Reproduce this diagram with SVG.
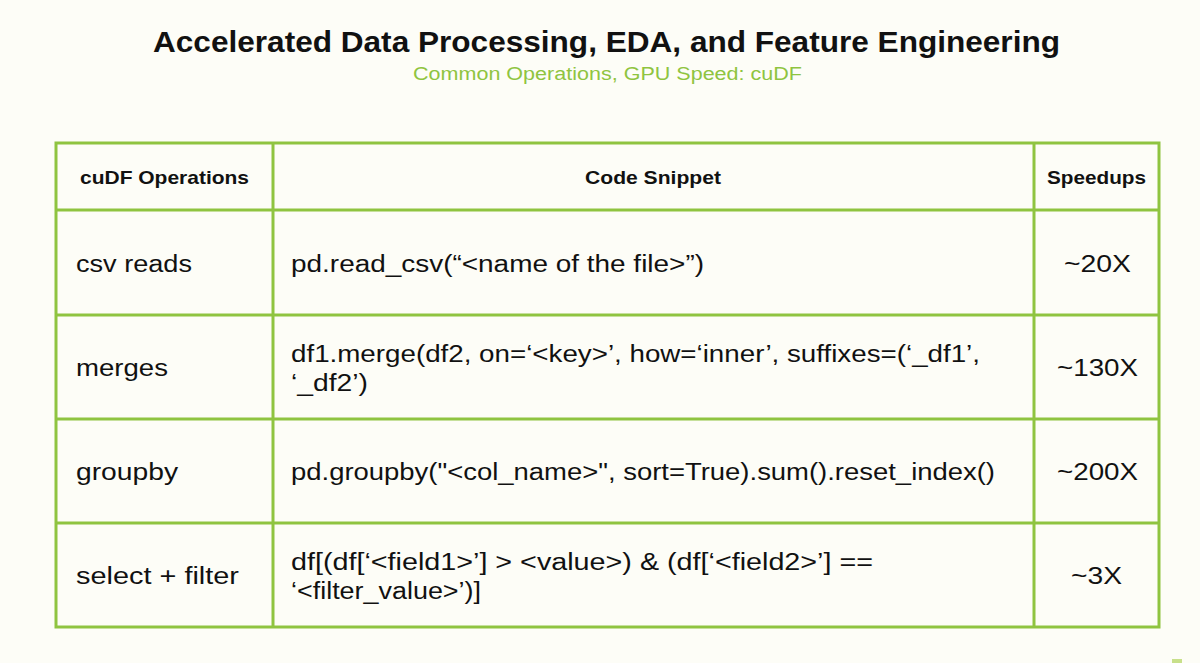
<svg xmlns="http://www.w3.org/2000/svg" width="1200" height="663" viewBox="0 0 1200 663">
<style>
.t{font-family:"Liberation Sans",Arial,sans-serif;fill:#111}
.h{font-weight:bold;font-size:19px}
.b{font-size:23px}
.ln{stroke:#8fc440;stroke-width:3;fill:none}
</style>
<rect width="1200" height="663" fill="#fdfdf7"/>
<text class="t" x="153" y="52" font-size="29" font-weight="bold" textLength="907" lengthAdjust="spacingAndGlyphs">Accelerated Data Processing, EDA, and Feature Engineering</text>
<text class="t" x="413" y="80" font-size="18" style="fill:#8fc440" textLength="389" lengthAdjust="spacingAndGlyphs">Common Operations, GPU Speed: cuDF</text>
<g id="table">
<rect class="ln" x="56" y="143" width="1103" height="484"/>
<line class="ln" x1="273" y1="143" x2="273" y2="627"/>
<line class="ln" x1="1034" y1="143" x2="1034" y2="627"/>
<line class="ln" x1="56" y1="210" x2="1159" y2="210"/>
<line class="ln" x1="56" y1="315" x2="1159" y2="315"/>
<line class="ln" x1="56" y1="419" x2="1159" y2="419"/>
<line class="ln" x1="56" y1="523" x2="1159" y2="523"/>
</g>
<g id="header">
<text class="t h" x="80" y="184" textLength="169" lengthAdjust="spacingAndGlyphs">cuDF Operations</text>
<text class="t h" x="585" y="184" textLength="136" lengthAdjust="spacingAndGlyphs">Code Snippet</text>
<text class="t h" x="1047" y="184" textLength="99" lengthAdjust="spacingAndGlyphs">Speedups</text>
</g>
<g id="row1">
<text class="t b" x="76" y="272" textLength="116" lengthAdjust="spacingAndGlyphs">csv reads</text>
<text class="t b" x="291" y="272" textLength="413" lengthAdjust="spacingAndGlyphs">pd.read_csv(“&lt;name of the file&gt;”)</text>
<text class="t b" x="1064" y="272" textLength="67" lengthAdjust="spacingAndGlyphs">~20X</text>
</g>
<g id="row2">
<text class="t b" x="76" y="376" textLength="92" lengthAdjust="spacingAndGlyphs">merges</text>
<text class="t b" x="291" y="362" textLength="689" lengthAdjust="spacingAndGlyphs">df1.merge(df2, on=‘&lt;key&gt;’, how=‘inner’, suffixes=(‘_df1’,</text>
<text class="t b" x="291" y="391" textLength="77" lengthAdjust="spacingAndGlyphs">‘_df2’)</text>
<text class="t b" x="1057" y="376" textLength="81" lengthAdjust="spacingAndGlyphs">~130X</text>
</g>
<g id="row3">
<text class="t b" x="76" y="480" textLength="102" lengthAdjust="spacingAndGlyphs">groupby</text>
<text class="t b" x="291" y="480" textLength="704" lengthAdjust="spacingAndGlyphs">pd.groupby("&lt;col_name&gt;", sort=True).sum().reset_index()</text>
<text class="t b" x="1057" y="480" textLength="81" lengthAdjust="spacingAndGlyphs">~200X</text>
</g>
<g id="row4">
<text class="t b" x="76" y="584" textLength="163" lengthAdjust="spacingAndGlyphs">select + filter</text>
<text class="t b" x="291" y="570" textLength="582" lengthAdjust="spacingAndGlyphs">df[(df[‘&lt;field1&gt;’] &gt; &lt;value&gt;) &amp; (df[‘&lt;field2&gt;’] ==</text>
<text class="t b" x="291" y="599" textLength="190" lengthAdjust="spacingAndGlyphs">‘&lt;filter_value&gt;’)]</text>
<text class="t b" x="1071" y="584" textLength="51" lengthAdjust="spacingAndGlyphs">~3X</text>
</g>
<rect x="1172" y="659" width="10" height="4" fill="#c8e08a"/>
</svg>
